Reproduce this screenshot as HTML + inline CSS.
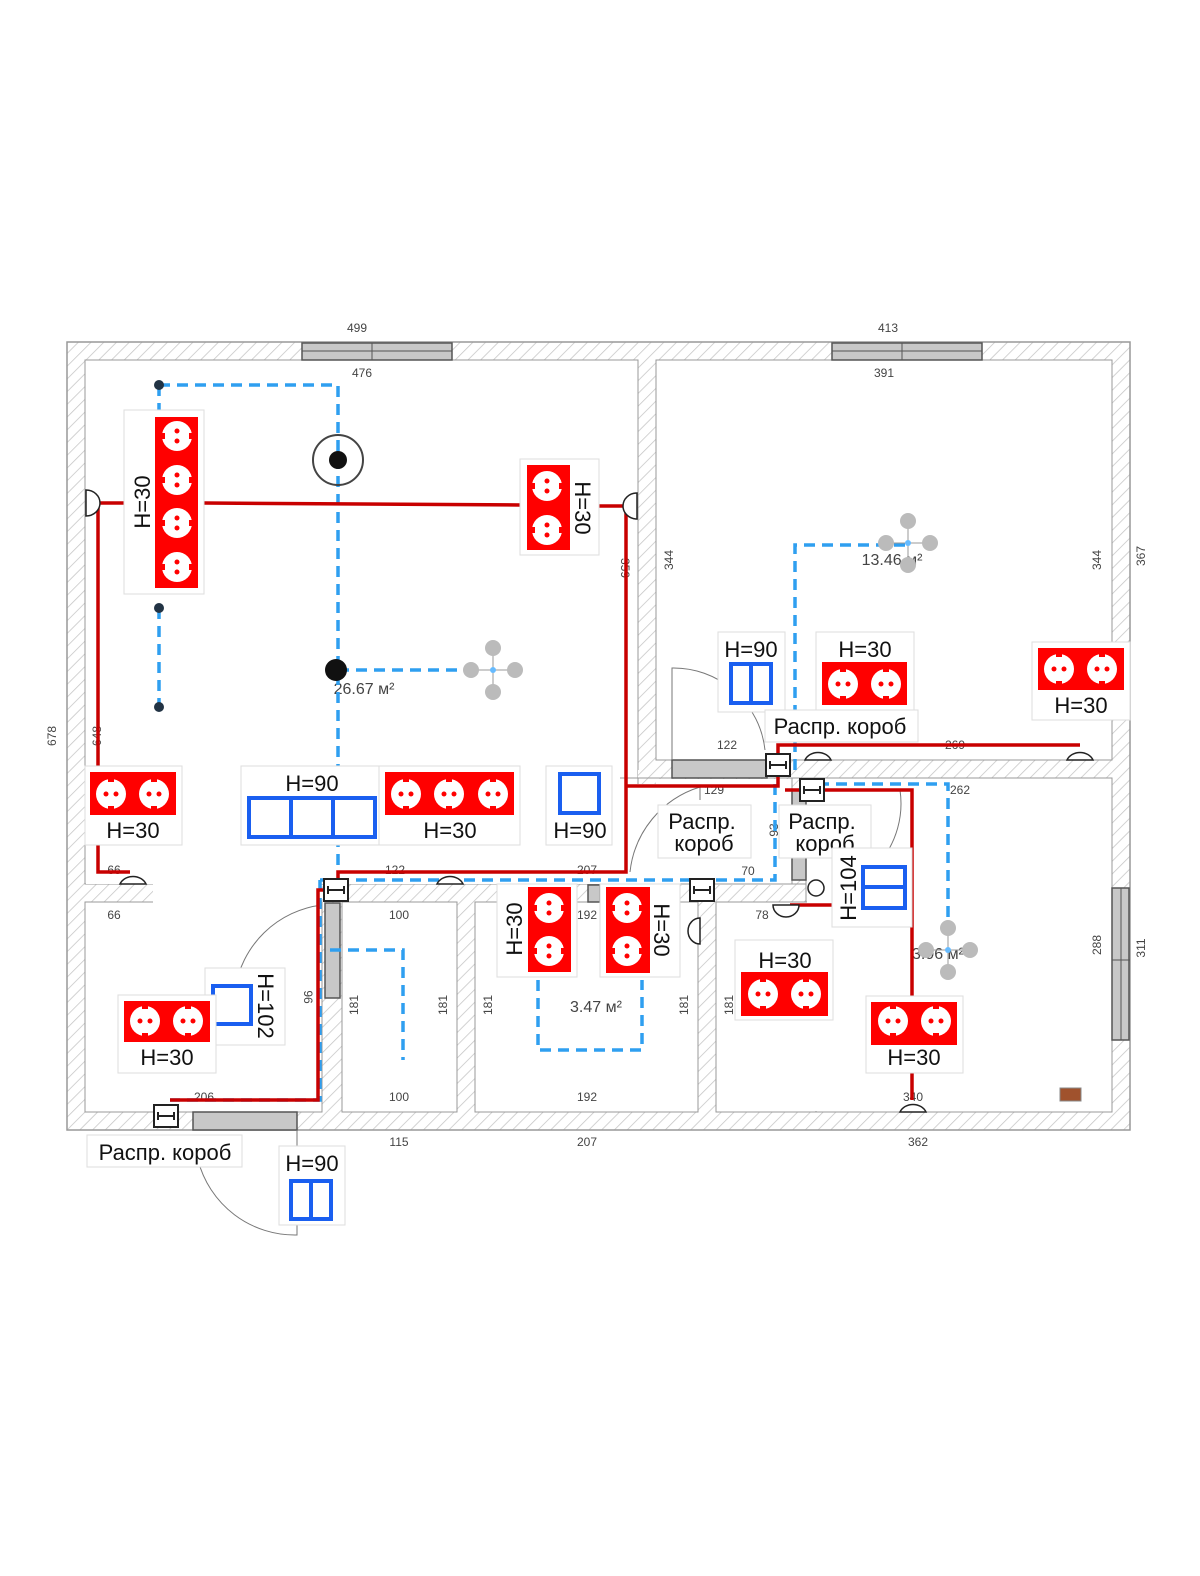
<!DOCTYPE html>
<html><head><meta charset="utf-8"><style>
html,body{margin:0;padding:0;background:#fff;overflow:hidden;width:1200px;height:1576px}
svg{display:block}
text{font-family:"Liberation Sans",sans-serif;}
.d{font-size:12px;fill:#444;text-anchor:middle}
.h{font-size:22px;fill:#111;text-anchor:middle}
.lb{fill:#fff;stroke:#ddd;stroke-width:1}
.rd{fill:#f00}
.bl{fill:#fff;stroke:#1a5ff0;stroke-width:4}
.red{stroke:#c80000;stroke-width:3.5;fill:none}
.blu{stroke:#2f9ff0;stroke-width:3.5;fill:none;stroke-dasharray:11 7}
.arc{stroke:#777;stroke-width:1;fill:none}
</style></head><body>
<svg width="1200" height="1576" viewBox="0 0 1200 1576" xmlns="http://www.w3.org/2000/svg">
<defs>
<pattern id="hat" width="9" height="9" patternUnits="userSpaceOnUse" patternTransform="rotate(45)">
<rect width="9" height="9" fill="#fff"/><line x1="0" y1="0" x2="0" y2="9" stroke="#c4c4c4" stroke-width="1.5"/>
</pattern>
<g id="sk"><circle r="15" fill="#fff"/><circle cx="-5" r="2.5" fill="#f00"/><circle cx="5" r="2.5" fill="#f00"/><rect x="-3" y="-16" width="6" height="4" fill="#f00"/><rect x="-3" y="12" width="6" height="4" fill="#f00"/></g>
<g id="skv"><circle r="15" fill="#fff"/><circle cy="-5" r="2.5" fill="#f00"/><circle cy="5" r="2.5" fill="#f00"/><rect y="-3" x="-16" height="6" width="4" fill="#f00"/><rect y="-3" x="12" height="6" width="4" fill="#f00"/></g>
<g id="jb"><rect x="-12" y="-11" width="24" height="22" fill="#fff" stroke="#222" stroke-width="2"/><line x1="-8" y1="0" x2="8" y2="0" stroke="#222" stroke-width="2"/><path d="M-8 -4 V4 M8 -4 V4" stroke="#222" stroke-width="2"/></g>
<g id="lamp"><line x1="-22" y1="0" x2="22" y2="0" stroke="#999"/><line x1="0" y1="-22" x2="0" y2="22" stroke="#999"/><circle cx="-22" r="8" fill="#bbb"/><circle cx="22" r="8" fill="#bbb"/><circle cy="-22" r="8" fill="#bbb"/><circle cy="22" r="8" fill="#bbb"/><circle r="3" fill="#6bf"/></g>
</defs>
<rect x="67" y="342" width="1063" height="788" fill="url(#hat)" stroke="#999" stroke-width="1.5"/>
<g fill="#fff" stroke="#999" stroke-width="1">
<rect x="85" y="360" width="553" height="524"/>
<rect x="656" y="360" width="456" height="400"/>
<rect x="85" y="902" width="237" height="210"/>
<rect x="342" y="902" width="115" height="210"/>
<rect x="475" y="902" width="223" height="210"/>
<rect x="806" y="778" width="306" height="334"/>
<rect x="716" y="902" width="100" height="210"/>
</g>
<g fill="#fff">
<rect x="86" y="361" width="551" height="523"/>
<rect x="153" y="880" width="168" height="24"/>
<rect x="620" y="779" width="172" height="106"/>
<rect x="638" y="770" width="18" height="14" fill="url(#hat)"/>
<rect x="86" y="903" width="235" height="208"/>
<rect x="807" y="779" width="304" height="332"/>
<rect x="717" y="903" width="100" height="208"/>
</g>
<line x1="638" y1="778" x2="638" y2="784" stroke="#999"/>
<path d="M620 778 H1112 M792 778 V884 M806 778 V902 M600 884 H806 M716 902 V1112" stroke="#999" fill="none"/>
<g fill="#c8c8c8" stroke="#555" stroke-width="1.5">
<rect x="302" y="343" width="150" height="17"/><rect x="832" y="343" width="150" height="17"/>
<rect x="1112" y="888" width="17" height="152"/>
<rect x="193" y="1112" width="104" height="18"/>
<rect x="325" y="903" width="15" height="95"/>
<rect x="672" y="760" width="95" height="18"/>
<rect x="792" y="790" width="14" height="90"/>
<rect x="588" y="885" width="12" height="17"/>
</g>
<path d="M302 351 H452 M372 343 V360 M832 351 H982 M902 343 V360 M1121 888 V1040 M1112 960 H1130" stroke="#555"/>
<path class="arc" d="M322 905 A100 100 0 0 0 235 990 M297 1130 V1235 A100 100 0 0 1 198 1160 M672 760 V668 A92 92 0 0 1 765 750 M630 872 A100 100 0 0 1 700 787 V800 M806 790 H900 V790 A92 92 0 0 1 880 862"/>
<text class="d" x="357" y="332">499</text><text class="d" x="888" y="332">413</text>
<text class="d" x="362" y="377">476</text><text class="d" x="884" y="377">391</text>
<text class="d" transform="translate(56,736) rotate(-90)">678</text>
<text class="d" transform="translate(101,736) rotate(-90)">648</text>
<text class="d" transform="translate(621,568) rotate(90)">359</text>
<text class="d" transform="translate(673,560) rotate(-90)">344</text>
<text class="d" transform="translate(1101,560) rotate(-90)">344</text>
<text class="d" transform="translate(1145,556) rotate(-90)">367</text>
<text class="d" x="727" y="749">122</text><text class="d" x="955" y="749">269</text>
<text class="d" x="714" y="794">129</text><text class="d" x="960" y="794">262</text>
<text class="d" transform="translate(778,830) rotate(-90)">93</text>
<text class="d" x="748" y="875">70</text><text class="d" x="114" y="874">66</text>
<text class="d" x="395" y="874">122</text><text class="d" x="587" y="874">207</text>
<text class="d" x="114" y="919">66</text><text class="d" x="399" y="919">100</text>
<text class="d" x="587" y="919">192</text><text class="d" x="762" y="919">78</text>
<text class="d" transform="translate(358,1005) rotate(-90)">181</text>
<text class="d" transform="translate(447,1005) rotate(-90)">181</text>
<text class="d" transform="translate(492,1005) rotate(-90)">181</text>
<text class="d" transform="translate(688,1005) rotate(-90)">181</text>
<text class="d" transform="translate(733,1005) rotate(-90)">181</text>
<text class="d" transform="translate(304,997) rotate(90)">96</text>
<text class="d" transform="translate(1101,945) rotate(-90)">288</text>
<text class="d" transform="translate(1145,948) rotate(-90)">311</text>
<text class="d" x="204" y="1101">206</text><text class="d" x="399" y="1101">100</text>
<text class="d" x="587" y="1101">192</text><text class="d" x="913" y="1101">340</text>
<text class="d" x="399" y="1146">115</text><text class="d" x="587" y="1146">207</text><text class="d" x="918" y="1146">362</text>
<text class="d" style="font-size:16px" x="892" y="565">13.46 м²</text>
<text class="d" style="font-size:16px" x="364" y="694">26.67 м²</text>
<text class="d" style="font-size:16px" x="596" y="1012">3.47 м²</text>
<text class="d" style="font-size:16px" x="938" y="959">3.96 м²</text>
<path class="blu" d="M159 385 H338 V870 M159 385 V410 M159 608 V707 M338 670 H470 M795 770 V545 H905 M320 880 H775 V770 M320 880 V1100 H170 M330 950 H403 V1060 M538 980 V1050 H642 V980 M800 784 H948 V940"/>
<path class="red" d="M90 503 H124 M204 503 L520 505 M599 506 H626 V872 H338 V890 H318 V1100 H170 M98 503 V872 H130 M626 786 H778 V745 H1080 M785 790 H912 V996 M912 1073 V1100 M790 905 H835 M690 928 H700"/>
<g fill="#fff" stroke="#222" stroke-width="1.5">
<path d="M86 490 A14 13 0 0 1 86 516 Z"/><path d="M637 493 A14 13 0 0 0 637 519 Z"/>
<path d="M120 884 A14 12 0 0 1 146 884 Z"/><path d="M437 884 A14 12 0 0 1 463 884 Z"/>
<path d="M805 760 A14 12 0 0 1 831 760 Z"/><path d="M1067 760 A14 12 0 0 1 1093 760 Z"/>
<path d="M900 1112 A14 12 0 0 1 926 1112 Z"/><path d="M773 905 A13 12 0 0 0 799 905 Z"/>
<path d="M700 918 A12 13 0 0 0 700 944 Z"/>
<circle cx="816" cy="888" r="8"/>
</g>
<circle cx="338" cy="460" r="25" fill="none" stroke="#444" stroke-width="2"/><circle cx="338" cy="460" r="9" fill="#111"/>
<circle cx="336" cy="670" r="11" fill="#111"/>
<g fill="#234"><circle cx="159" cy="385" r="5"/><circle cx="159" cy="608" r="5"/><circle cx="159" cy="707" r="5"/></g>
<use href="#lamp" x="493" y="670"/><use href="#lamp" x="908" y="543"/><use href="#lamp" x="948" y="950"/>
<rect x="1060" y="1088" width="21" height="13" fill="#a0522d" stroke="#888"/>
<use href="#jb" x="336" y="890"/><use href="#jb" x="778" y="765"/><use href="#jb" x="812" y="790"/><use href="#jb" x="702" y="890"/><use href="#jb" x="166" y="1116"/>
<rect class="lb" x="124" y="410" width="80" height="184"/><rect class="rd" x="155" y="417" width="43" height="171"/>
<use href="#skv" x="177" y="436"/><use href="#skv" x="177" y="480"/><use href="#skv" x="177" y="523"/><use href="#skv" x="177" y="567"/>
<text class="h" transform="translate(150,502) rotate(-90)">H=30</text>
<rect class="lb" x="520" y="459" width="79" height="96"/><rect class="rd" x="527" y="465" width="43" height="85"/>
<use href="#skv" x="547" y="486"/><use href="#skv" x="547" y="530"/>
<text class="h" transform="translate(575,508) rotate(90)">H=30</text>
<rect class="lb" x="85" y="766" width="97" height="79"/><rect class="rd" x="90" y="772" width="86" height="43"/>
<use href="#sk" x="111" y="794"/><use href="#sk" x="154" y="794"/><text class="h" x="133" y="838">H=30</text>
<rect class="lb" x="241" y="766" width="138" height="79"/><text class="h" x="312" y="791">H=90</text>
<rect class="bl" x="249" y="798" width="126" height="39"/><path d="M291 798 V837 M333 798 V837" stroke="#1a5ff0" stroke-width="4"/>
<rect class="lb" x="379" y="766" width="141" height="79"/><rect class="rd" x="385" y="772" width="129" height="43"/>
<use href="#sk" x="406" y="794"/><use href="#sk" x="449" y="794"/><use href="#sk" x="493" y="794"/><text class="h" x="450" y="838">H=30</text>
<rect class="lb" x="546" y="766" width="66" height="79"/><rect class="bl" x="560" y="774" width="39" height="39"/><text class="h" x="580" y="838">H=90</text>
<rect class="lb" x="658" y="805" width="93" height="53"/><text class="h" x="702" y="829">Распр.</text><text class="h" x="704" y="851">короб</text>
<rect class="lb" x="779" y="805" width="92" height="53"/><text class="h" x="822" y="829">Распр.</text><text class="h" x="825" y="851">короб</text>
<rect class="lb" x="718" y="632" width="67" height="80"/><text class="h" x="751" y="657">H=90</text>
<rect class="bl" x="731" y="664" width="40" height="39"/><path d="M751 664 V703" stroke="#1a5ff0" stroke-width="4"/>
<rect class="lb" x="816" y="632" width="98" height="78"/><text class="h" x="865" y="657">H=30</text><rect class="rd" x="822" y="662" width="85" height="43"/>
<use href="#sk" x="843" y="684"/><use href="#sk" x="886" y="684"/>
<rect class="lb" x="1032" y="642" width="98" height="78"/><rect class="rd" x="1038" y="648" width="86" height="42"/>
<use href="#sk" x="1059" y="669"/><use href="#sk" x="1102" y="669"/><text class="h" x="1081" y="713">H=30</text>
<rect class="lb" x="765" y="710" width="153" height="32"/><text class="h" x="840" y="734">Распр. короб</text>
<rect class="lb" x="832" y="848" width="80" height="79"/><text class="h" transform="translate(856,888) rotate(-90)">H=104</text>
<rect class="bl" x="863" y="867" width="42" height="41"/><path d="M863 887 H905" stroke="#1a5ff0" stroke-width="4"/>
<rect class="lb" x="497" y="884" width="80" height="93"/><rect class="rd" x="528" y="887" width="43" height="85"/>
<use href="#skv" x="549" y="908"/><use href="#skv" x="549" y="951"/><text class="h" transform="translate(522,929) rotate(-90)">H=30</text>
<rect class="lb" x="600" y="884" width="80" height="93"/><rect class="rd" x="606" y="887" width="44" height="86"/>
<use href="#skv" x="627" y="908"/><use href="#skv" x="627" y="951"/><text class="h" transform="translate(654,930) rotate(90)">H=30</text>
<rect class="lb" x="735" y="940" width="98" height="80"/><text class="h" x="785" y="968">H=30</text><rect class="rd" x="741" y="972" width="87" height="44"/>
<use href="#sk" x="763" y="994"/><use href="#sk" x="806" y="994"/>
<rect class="lb" x="866" y="996" width="97" height="77"/><rect class="rd" x="871" y="1002" width="86" height="43"/>
<use href="#sk" x="893" y="1021"/><use href="#sk" x="936" y="1021"/><text class="h" x="914" y="1065">H=30</text>
<rect class="lb" x="205" y="968" width="80" height="77"/><rect class="bl" x="213" y="986" width="38" height="38"/>
<text class="h" transform="translate(258,1006) rotate(90)">H=102</text>
<rect class="lb" x="118" y="995" width="98" height="78"/><rect class="rd" x="124" y="1001" width="86" height="41"/>
<use href="#sk" x="145" y="1021"/><use href="#sk" x="188" y="1021"/><text class="h" x="167" y="1065">H=30</text>
<rect class="lb" x="87" y="1135" width="155" height="32"/><text class="h" x="165" y="1160">Распр. короб</text>
<rect class="lb" x="279" y="1146" width="66" height="79"/><text class="h" x="312" y="1171">H=90</text>
<rect class="bl" x="291" y="1181" width="40" height="38"/><path d="M311 1181 V1219" stroke="#1a5ff0" stroke-width="4"/>
</svg>
</body></html>
